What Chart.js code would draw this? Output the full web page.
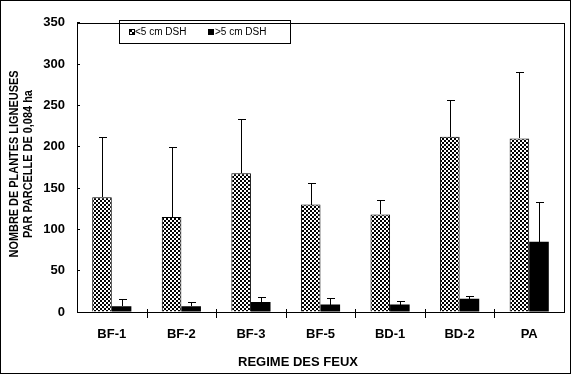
<!DOCTYPE html>
<html>
<head>
<meta charset="utf-8">
<script src="https://cdn.jsdelivr.net/npm/chart.js@4.4.1/dist/chart.umd.min.js"></script>
<style>
    html, body { margin: 0; padding: 0; background: #fff; }
    canvas { display: block; }
</style>
</head>
<body>
<canvas id="chart" width="571" height="374"></canvas>
<script>
// data
const categories = ["BF-1", "BF-2", "BF-3", "BF-5", "BD-1", "BD-2", "PA"];
const seriesNames = ["<5 cm DSH", ">5 cm DSH"];
const smallStems = [139, 115, 168, 130, 118, 212, 210];
const smallStemsErr = [73, 85, 65, 26, 17, 44, 81];
const largeStems = [7, 7, 12, 9, 9, 16, 85];
const largeStemsErr = [9, 5, 6, 8, 4, 3, 48];
const yTicks = [0, 50, 100, 150, 200, 250, 300, 350];
const xTitle = "REGIME DES FEUX";
const yTitle = ["NOMBRE DE PLANTES LIGNEUSES", "PAR PARCELLE DE 0,084 ha"];

const fontFamily = "'Liberation Sans', Arial, sans-serif";

const makeChecker = () => {
    const c = document.createElement("canvas");
    c.width = 4;
    c.height = 4;
    const g = c.getContext("2d");
    g.fillStyle = "#fff";
    g.fillRect(0, 0, 4, 4);
    g.fillStyle = "#000";
    g.fillRect(0, 0, 2, 2);
    g.fillRect(2, 2, 2, 2);
    return document.getElementById("chart").getContext("2d").createPattern(c, "repeat");
};
const checker = makeChecker();

const crisp = (v) => Math.round(v) + 0.5;

const errorBars = {
    id: "errorBars",
    afterDatasetsDraw(chart) {
        const { ctx } = chart;
        const y = chart.scales.y;
        ctx.save();
        ctx.strokeStyle = "#000";
        ctx.lineWidth = 1;
        chart.data.datasets.forEach((ds, i) => {
            chart.getDatasetMeta(i).data.forEach((bar, j) => {
                const x = crisp(bar.x);
                const top = Math.round(y.getPixelForValue(ds.data[j] + ds.errors[j])) + 0.5;
                ctx.beginPath();
                ctx.moveTo(x, Math.round(bar.y));
                ctx.lineTo(x, top);
                ctx.moveTo(x - 3.5, top);
                ctx.lineTo(x + 4.5, top);
                ctx.stroke();
            });
        });
        ctx.restore();
    }
};

const frame = {
    id: "frame",
    beforeDraw(chart) {
        const { ctx } = chart;
        ctx.save();
        ctx.fillStyle = "#fff";
        ctx.fillRect(0, 0, chart.width, chart.height);
        ctx.restore();
    },
    afterDraw(chart) {
        const { ctx, chartArea: a } = chart;
        const x = chart.scales.x;
        ctx.save();
        ctx.strokeStyle = "#000";
        ctx.lineWidth = 1;
        // outer border
        ctx.strokeRect(0.5, 0.5, chart.width - 1, chart.height - 1);
        // plot box
        ctx.strokeRect(crisp(a.left), crisp(a.top), Math.round(a.right - a.left), Math.round(a.bottom - a.top));
        // category separators on the x axis
        ctx.beginPath();
        for (let i = 1; i < categories.length; i++) {
            const px = crisp((x.getPixelForTick(i - 1) + x.getPixelForTick(i)) / 2);
            ctx.moveTo(px, Math.round(a.bottom) - 3);
            ctx.lineTo(px, Math.round(a.bottom) + 6);
        }
        ctx.stroke();

        // x title
        ctx.fillStyle = "#000";
        ctx.font = `bold 13px ${fontFamily}`;
        ctx.textAlign = "center";
        ctx.textBaseline = "middle";
        ctx.fillText(xTitle, 298, 362);

        // y title, condensed like the original
        ctx.font = `bold 12px ${fontFamily}`;
        const squeeze = 187 / ctx.measureText(yTitle[0]).width;
        ctx.save();
        ctx.translate(15, 164);
        ctx.rotate(-Math.PI / 2);
        ctx.scale(squeeze, 1);
        ctx.fillText(yTitle[0], 0, 0);
        ctx.fillText(yTitle[1], 0, 14);
        ctx.restore();

        // legend box
        ctx.strokeRect(119.5, 20.5, 171, 23);
        ctx.font = `10px ${fontFamily}`;
        ctx.textAlign = "left";
        const items = [[129, 135], [208, 215]];
        chart.data.datasets.forEach((ds, i) => {
            const [sx, tx] = items[i];
            ctx.fillStyle = ds.backgroundColor;
            ctx.fillRect(sx, 29, 6, 6);
            ctx.strokeRect(sx + 0.5, 29.5, 5, 5);
            ctx.fillStyle = "#000";
            ctx.fillText(ds.label, tx, 32.5);
        });
        ctx.restore();
    }
};

new Chart(document.getElementById("chart"), {
    type: "bar",
    data: {
        labels: categories,
        datasets: [
            {
                label: seriesNames[0],
                data: smallStems,
                errors: smallStemsErr,
                backgroundColor: checker,
                borderColor: "#000",
                borderWidth: 1
            },
            {
                label: seriesNames[1],
                data: largeStems,
                errors: largeStemsErr,
                backgroundColor: "#000",
                borderColor: "#000",
                borderWidth: 0
            }
        ]
    },
    options: {
        responsive: false,
        animation: false,
        devicePixelRatio: 1,
        categoryPercentage: 0.563,
        barPercentage: 1,
        layout: { padding: { left: 0, top: 10, right: 7, bottom: 0 } },
        plugins: {
            legend: { display: false },
            tooltip: { enabled: false }
        },
        scales: {
            x: {
                grid: { display: false },
                border: { display: true, color: "#000", width: 1 },
                ticks: {
                    color: "#000",
                    padding: 7,
                    font: { family: fontFamily, size: 13, weight: "bold" }
                },
                afterFit: (s) => { s.height = 62; }
            },
            y: {
                min: yTicks[0],
                max: yTicks[yTicks.length - 1],
                afterBuildTicks: (s) => { s.ticks = yTicks.map((v) => ({ value: v })); },
                grid: { drawOnChartArea: false, drawTicks: true, tickLength: -3, color: "#000" },
                border: { display: true, color: "#000", width: 1 },
                ticks: {
                    color: "#000",
                    padding: 15,
                    font: { family: fontFamily, size: 13, weight: "bold" }
                },
                afterFit: (s) => { s.width = 77; }
            }
        }
    },
    plugins: [errorBars, frame]
});
</script>
</body>
</html>
